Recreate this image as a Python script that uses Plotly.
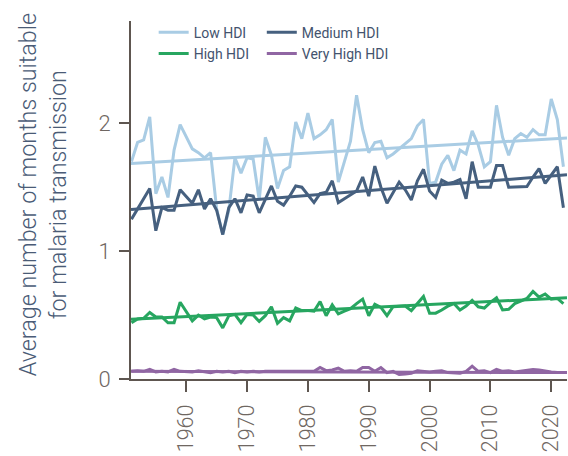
import plotly.graph_objects as go

# Annual values, 1951-2022
years = list(range(1951, 2023))

low_hdi = [
    1.70, 1.85, 1.87, 2.05, 1.45, 1.58, 1.42, 1.79, 1.99, 1.90,
    1.80, 1.77, 1.73, 1.77, 1.33, 1.13, 1.32, 1.73, 1.61, 1.73,
    1.72, 1.40, 1.89, 1.75, 1.49, 1.63, 1.66, 2.01, 1.88, 2.08,
    1.88, 1.91, 1.95, 2.03, 1.54, 1.70, 1.86, 2.22, 1.95, 1.77,
    1.85, 1.86, 1.73, 1.76, 1.80, 1.84, 1.88, 1.98, 2.03, 1.53,
    1.54, 1.68, 1.75, 1.63, 1.79, 1.76, 1.94, 1.83, 1.66, 1.70,
    2.14, 1.89, 1.75, 1.88, 1.92, 1.89, 1.95, 1.91, 1.91, 2.19,
    2.03, 1.66,
]

medium_hdi = [
    1.25, 1.33, 1.41, 1.49, 1.16, 1.34, 1.32, 1.32, 1.48, 1.43,
    1.375, 1.48, 1.33, 1.41, 1.32, 1.13, 1.34, 1.41, 1.30, 1.44,
    1.43, 1.30, 1.40, 1.51, 1.39, 1.36, 1.43, 1.51, 1.50, 1.44,
    1.38, 1.45, 1.46, 1.55, 1.38, 1.41, 1.44, 1.47, 1.58, 1.43,
    1.665, 1.50, 1.375, 1.46, 1.54, 1.48, 1.40, 1.55, 1.64, 1.47,
    1.42, 1.555, 1.53, 1.54, 1.56, 1.41, 1.70, 1.50, 1.50, 1.50,
    1.67, 1.67, 1.50, 1.50, 1.50, 1.505, 1.58, 1.645, 1.53, 1.60,
    1.66, 1.34,
]

high_hdi = [
    0.44, 0.47, 0.475, 0.52, 0.485, 0.485, 0.44, 0.44, 0.60, 0.53,
    0.455, 0.50, 0.47, 0.485, 0.48, 0.40, 0.495, 0.505, 0.44, 0.505,
    0.50, 0.45, 0.495, 0.565, 0.435, 0.48, 0.455, 0.555, 0.535, 0.535,
    0.53, 0.605, 0.495, 0.58, 0.51, 0.53, 0.55, 0.59, 0.625, 0.495,
    0.585, 0.56, 0.495, 0.565, 0.57, 0.57, 0.535, 0.59, 0.645, 0.515,
    0.515, 0.54, 0.57, 0.59, 0.54, 0.57, 0.615, 0.565, 0.555, 0.60,
    0.635, 0.54, 0.545, 0.59, 0.61, 0.63, 0.685, 0.64, 0.665, 0.625,
    0.63, 0.59,
]

very_high_hdi = [
    0.06, 0.065, 0.06, 0.075, 0.055, 0.06, 0.055, 0.075, 0.06, 0.06,
    0.055, 0.065, 0.055, 0.05, 0.06, 0.055, 0.06, 0.05, 0.06, 0.055,
    0.06, 0.055, 0.06, 0.06, 0.06, 0.055, 0.06, 0.06, 0.06, 0.055,
    0.06, 0.09, 0.065, 0.07, 0.085, 0.06, 0.065, 0.06, 0.09, 0.09,
    0.06, 0.09, 0.05, 0.06, 0.035, 0.04, 0.045, 0.065, 0.06, 0.055,
    0.06, 0.065, 0.05, 0.045, 0.045, 0.06, 0.10, 0.06, 0.065, 0.05,
    0.075, 0.06, 0.065, 0.055, 0.06, 0.065, 0.075, 0.07, 0.06, 0.055,
    0.05, 0.05,
]

# Linear trend end values (start, end) across the axis span
low_trend = [1.685, 1.885]
medium_trend = [1.325, 1.597]
high_trend = [0.467, 0.635]
very_high_trend = [0.06, 0.05]

x_range = [1950.92, 2022.59]
y_range = [0, 2.8]
x_tick_years = [1960, 1970, 1980, 1990, 2000, 2010, 2020]
y_tick_values = [0, 1, 2]

FONT = "Roboto"
AXIS_COLOR = "#5e5650"
TICK_TEXT = "#6f6762"
TITLE_COLOR = "#4a5b76"

series = [
    ("Low HDI", low_hdi, low_trend, "#a9cce4", "legend"),
    ("Medium HDI", medium_hdi, medium_trend, "#46607f", "legend2"),
    ("High HDI", high_hdi, high_trend, "#27a660", "legend"),
    ("Very High HDI", very_high_hdi, very_high_trend, "#9066a3", "legend2"),
]

fig = go.Figure()
for name, values, trend, color, legend_id in series:
    fig.add_trace(go.Scatter(
        x=years, y=values, mode="lines", name=name,
        line=dict(color=color, width=3),
        legend=legend_id, hoverinfo="x+y+name",
    ))
    fig.add_trace(go.Scatter(
        x=x_range, y=trend, mode="lines", name=name + " trend",
        line=dict(color=color, width=3),
        showlegend=False, hoverinfo="skip",
    ))

legend_common = dict(
    orientation="v", xanchor="left", yanchor="top",
    font=dict(family=FONT, size=14, color="#43536e", weight=400),
    bgcolor="rgba(0,0,0,0)", tracegroupgap=0, itemwidth=30,
)

fig.update_layout(
    width=568, height=456,
    margin=dict(l=131, r=1, t=21, b=77),
    paper_bgcolor="white", plot_bgcolor="white",
    font=dict(family=FONT, color=TICK_TEXT),
    legend=dict(x=0.052, y=1.012, **legend_common),
    legend2=dict(x=0.3, y=1.012, **legend_common),
    xaxis=dict(
        range=x_range, showgrid=False, zeroline=False,
        showline=True, linecolor=AXIS_COLOR, linewidth=2,
        ticks="outside", ticklen=11, tickwidth=2, tickcolor=AXIS_COLOR,
        tickvals=x_tick_years, tickangle=-90, ticklabelstandoff=4,
        tickfont=dict(family=FONT, size=21.5, color=TICK_TEXT, weight=300),
    ),
    yaxis=dict(
        range=y_range, showgrid=False, zeroline=False,
        showline=True, linecolor=AXIS_COLOR, linewidth=2,
        ticks="outside", ticklen=10, tickwidth=2, tickcolor=AXIS_COLOR,
        tickvals=y_tick_values, ticklabelstandoff=4,
        tickfont=dict(family=FONT, size=22, color=TICK_TEXT, weight=300),
    ),
    annotations=[dict(
        text="Average number of months suitable<br>for malaria transmission",
        xref="paper", yref="paper", x=-0.2027, y=0.515,
        xanchor="center", yanchor="middle", textangle=-90, showarrow=False,
        font=dict(family=FONT, size=23.3, color=TITLE_COLOR, weight=300),
    )],
)

fig.write_html("out.html")
